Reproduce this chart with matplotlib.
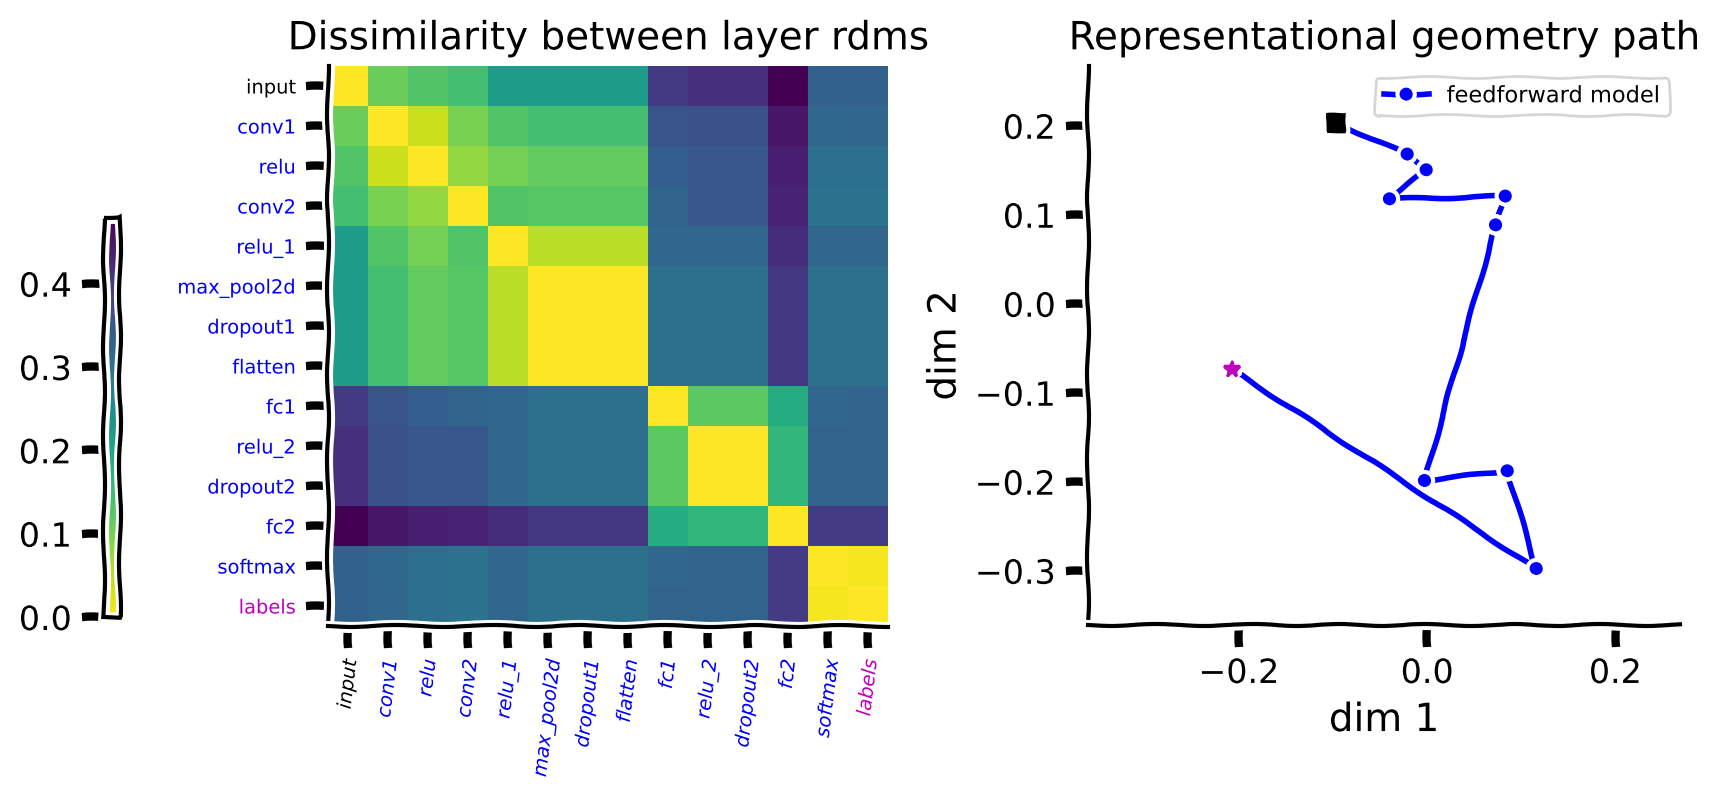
import matplotlib
matplotlib.use("Agg")
import matplotlib.pyplot as plt

plt.xkcd()
plt.rcParams['font.family'] = ['DejaVu Sans']
plt.rcParams['axes.unicode_minus'] = True

layers = ['input', 'conv1', 'relu', 'conv2', 'relu_1', 'max_pool2d', 'dropout1',
          'flatten', 'fc1', 'relu_2', 'dropout2', 'fc2', 'softmax', 'labels']
label_colors = ['k'] + ['b'] * 12 + ['m']

dissimilarity = [
    [0.000, 0.110, 0.130, 0.144, 0.216, 0.216, 0.216, 0.216, 0.398, 0.413, 0.413, 0.480, 0.331, 0.331],
    [0.110, 0.000, 0.036, 0.096, 0.130, 0.144, 0.144, 0.144, 0.355, 0.360, 0.360, 0.451, 0.317, 0.322],
    [0.130, 0.036, 0.000, 0.077, 0.101, 0.115, 0.115, 0.115, 0.336, 0.350, 0.350, 0.437, 0.305, 0.305],
    [0.144, 0.096, 0.077, 0.000, 0.130, 0.125, 0.125, 0.125, 0.326, 0.350, 0.350, 0.432, 0.297, 0.297],
    [0.216, 0.130, 0.101, 0.130, 0.000, 0.050, 0.050, 0.050, 0.322, 0.322, 0.322, 0.418, 0.322, 0.322],
    [0.216, 0.144, 0.115, 0.125, 0.050, 0.000, 0.000, 0.000, 0.302, 0.302, 0.302, 0.403, 0.302, 0.302],
    [0.216, 0.144, 0.115, 0.125, 0.050, 0.000, 0.000, 0.000, 0.302, 0.302, 0.302, 0.403, 0.302, 0.302],
    [0.216, 0.144, 0.115, 0.125, 0.050, 0.000, 0.000, 0.000, 0.302, 0.302, 0.302, 0.403, 0.302, 0.302],
    [0.398, 0.355, 0.336, 0.326, 0.322, 0.302, 0.302, 0.302, 0.000, 0.120, 0.120, 0.182, 0.322, 0.326],
    [0.413, 0.360, 0.350, 0.350, 0.322, 0.302, 0.302, 0.302, 0.120, 0.000, 0.000, 0.163, 0.326, 0.326],
    [0.413, 0.360, 0.350, 0.350, 0.322, 0.302, 0.302, 0.302, 0.120, 0.000, 0.000, 0.163, 0.326, 0.326],
    [0.480, 0.451, 0.437, 0.432, 0.418, 0.403, 0.403, 0.403, 0.182, 0.163, 0.163, 0.000, 0.394, 0.394],
    [0.331, 0.317, 0.305, 0.297, 0.322, 0.302, 0.302, 0.302, 0.322, 0.326, 0.326, 0.394, 0.000, 0.007],
    [0.331, 0.322, 0.305, 0.297, 0.322, 0.302, 0.302, 0.302, 0.326, 0.326, 0.326, 0.394, 0.007, 0.000],
]

colorbar_ticks = [0.0, 0.1, 0.2, 0.3, 0.4]

# path through representational space, one point per layer
dim1 = [-0.0975, -0.0214, -0.0012, -0.0402, 0.0828, 0.0725, 0.0725, 0.0725,
        -0.0030, 0.0849, 0.0849, 0.1157, -0.2080, -0.2080]
dim2 = [0.2034, 0.1679, 0.1502, 0.1176, 0.1207, 0.0883, 0.0883, 0.0883,
        -0.1989, -0.1880, -0.1880, -0.2978, -0.0734, -0.0734]
path_ticks_x = [-0.2, 0.0, 0.2]
path_ticks_y = [-0.3, -0.2, -0.1, 0.0, 0.1, 0.2]

W, H = 1718, 797
fig = plt.figure(figsize=(W / 200, H / 200), dpi=200)


def box(left, top, right, bottom):
    return [left / W, 1 - bottom / H, (right - left) / W, (bottom - top) / H]


ax_heat = fig.add_axes(box(328, 66, 888, 626))
im = ax_heat.imshow(dissimilarity, cmap='viridis_r', vmin=0, vmax=0.48, aspect='auto',
                    interpolation='nearest')
ax_heat.set_xticks(range(len(layers)))
ax_heat.set_xticklabels(layers, rotation=83, fontsize=7, style='italic')
ax_heat.set_yticks(range(len(layers)))
ax_heat.set_yticklabels(layers, fontsize=7)
for tick_x, tick_y, c in zip(ax_heat.get_xticklabels(), ax_heat.get_yticklabels(), label_colors):
    tick_x.set_color(c)
    tick_y.set_color(c)
ax_heat.spines['top'].set_visible(False)
ax_heat.spines['right'].set_visible(False)
ax_heat.set_title('Dissimilarity between layer rdms', fontsize=14)

cax = fig.add_axes(box(104, 217, 120, 617))
cbar = fig.colorbar(im, cax=cax)
cax.yaxis.set_ticks_position('left')
cbar.set_ticks(colorbar_ticks)
cax.tick_params(labelsize=12)

ax_path = fig.add_axes(box(1088, 66, 1680, 625))
ax_path.plot(dim1, dim2, 'o-', color='b', lw=2, ms=3.5, label='feedforward model')
ax_path.plot(dim1[0], dim2[0], 'ks', ms=6)
ax_path.plot(dim1[-1], dim2[-1], 'm*', ms=6)
ax_path.set_xlim(-0.3605, 0.2685)
ax_path.set_ylim(-0.3610, 0.2671)
ax_path.set_xticks(path_ticks_x)
ax_path.set_yticks(path_ticks_y)
ax_path.tick_params(labelsize=12)
ax_path.spines['top'].set_visible(False)
ax_path.spines['right'].set_visible(False)
ax_path.set_xlabel('dim 1')
ax_path.set_ylabel('dim 2')
ax_path.set_title('Representational geometry path', fontsize=14)
ax_path.legend(loc='upper right', fontsize=8.1)

fig.savefig('out.png', dpi=200)
